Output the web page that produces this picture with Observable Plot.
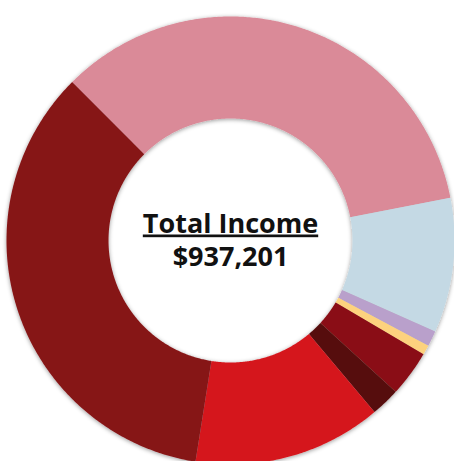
<!DOCTYPE html>
<html><head><meta charset="utf-8">
<script src="https://cdn.jsdelivr.net/npm/d3@7"></script>
<script src="https://cdn.jsdelivr.net/npm/@observablehq/plot@0.6"></script>
<style>html,body{margin:0;padding:0;background:#fff}</style>
</head><body><div id="chart"></div>
<script>
// Income sources (clockwise from the upper-left)
const categories = ["Source 1", "Source 2", "Source 3", "Source 4", "Source 5", "Source 6", "Source 7", "Source 8"];
const values = [322815, 91117, 10413, 6508, 31240, 19525, 127563, 328020];
const colors = ["#DA8A98", "#C4D9E4", "#B9A0CB", "#FDD27E", "#8A0F14", "#570E10", "#D5191F", "#861518"];
const centerTitle = "Total Income";

const total = d3.sum(values);
const outerR = 224, innerR = 122;

const pie = d3.pie().sort(null).value(d => d.value).startAngle(-Math.PI / 4).endAngle(2 * Math.PI - Math.PI / 4);
const arcs = pie(categories.map((c, i) => ({category: c, value: values[i]})));

function ringPolygon(a0, a1) {
  const n = Math.max(2, Math.ceil((a1 - a0) / (Math.PI / 360)));
  const pts = [];
  for (let i = 0; i <= n; i++) {
    const a = a0 + (a1 - a0) * i / n;
    pts.push([outerR * Math.sin(a), -outerR * Math.cos(a)]);
  }
  for (let i = n; i >= 0; i--) {
    const a = a0 + (a1 - a0) * i / n;
    pts.push([innerR * Math.sin(a), -innerR * Math.cos(a)]);
  }
  pts.push(pts[0]);
  return pts;
}

const features = arcs.map(a => ({
  type: "Feature",
  properties: {category: a.data.category, value: a.data.value},
  geometry: {type: "Polygon", coordinates: [ringPolygon(a.startAngle, a.endAngle)]}
}));

const frame = {type: "Polygon", coordinates: [[[-230, -240], [224, -240], [224, 221], [-230, 221], [-230, -240]]]};

const plot = Plot.plot({
  width: 454,
  height: 461,
  margin: 0,
  projection: {type: "identity", domain: frame},
  color: {domain: categories, range: colors},
  marks: [
    Plot.geo(features, {fill: d => d.properties.category, stroke: "none"}),
    Plot.text([{x: 0, y: 0, t: centerTitle}], {x: "x", y: "y", text: "t", lineAnchor: "bottom", dy: -8, fontSize: 27, fontWeight: 700, fontFamily: "Open Sans", fill: "#111", textAnchor: "middle", className: "ttl"}),
    Plot.text([{x: 0, y: 0, t: d3.format("$,")(total)}], {x: "x", y: "y", text: "t", lineAnchor: "bottom", dy: 25, fontSize: 27, fontWeight: 700, fontFamily: "Open Sans", fill: "#111", textAnchor: "middle"})
  ]
});

// drop shadow on the ring
const ns = "http://www.w3.org/2000/svg";
const defs = document.createElementNS(ns, "defs");
defs.innerHTML = '<filter id="sh" x="-10%" y="-10%" width="120%" height="120%"><feDropShadow dx="0" dy="1" stdDeviation="2" flood-color="#000" flood-opacity="0.4"/></filter>';
plot.insertBefore(defs, plot.firstChild);
const geoG = plot.querySelector('g[aria-label="geo"]');
if (geoG) geoG.setAttribute("filter", "url(#sh)");
plot.querySelectorAll(".ttl text, g.ttl text").forEach(t => t.style.textDecoration = "underline");
document.getElementById("chart").appendChild(plot);
</script>
</body></html>
